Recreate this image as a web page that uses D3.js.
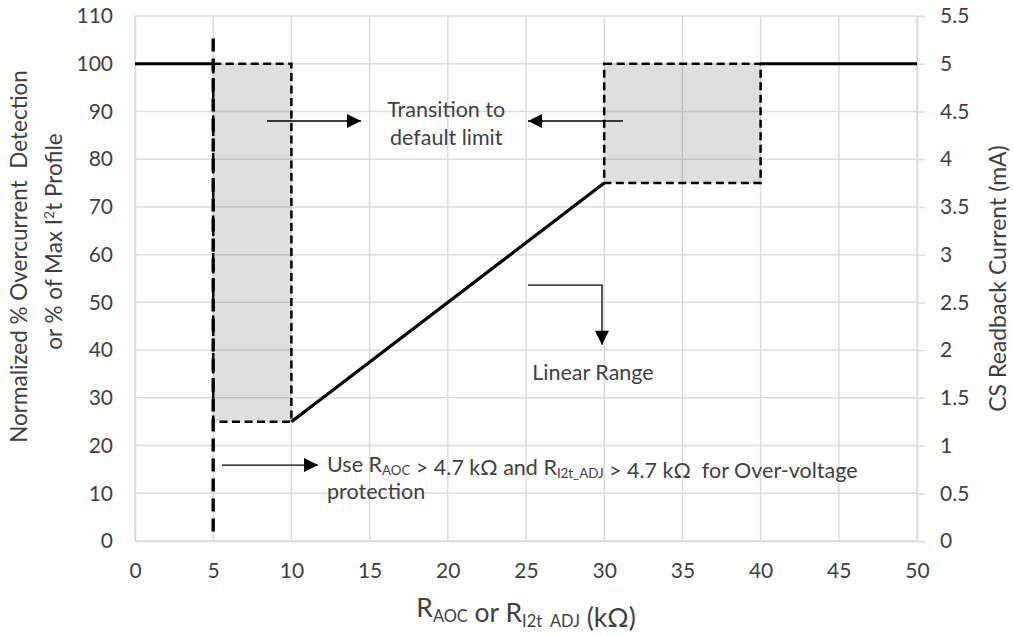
<!DOCTYPE html>
<html><head><meta charset="utf-8">
<script src="https://cdn.jsdelivr.net/npm/d3@7"></script>
<style>
body{margin:0;background:#fff}
text{font-family:Lato,"Open Sans",sans-serif;fill:#404040}
</style>
</head><body>
<svg id="c" width="1013" height="636"></svg>
<script>
// ---- data ----
const xTicks = [0,5,10,15,20,25,30,35,40,45,50];
const yLeftTicks = [0,10,20,30,40,50,60,70,80,90,100,110];
const yRightTicks = [0,0.5,1,1.5,2,2.5,3,3.5,4,4.5,5,5.5];
// solid limit curve pieces
const defaultLowX = [0,5],   defaultLowY = [100,100];
const linearX = [10,30],     linearY = [25,75];
const defaultHighX = [40,50], defaultHighY = [100,100];
// shaded transition boxes
const boxX0 = [5,30], boxX1 = [10,40], boxY0 = [25,75], boxY1 = [100,100];
// dashed over-voltage boundary
const ovX = [5,5], ovY = [2,106.5];
// annotations (data units)
const arrowRight1 = {x0:8.44, x1:14.45, y:88};
const arrowLeft1  = {x0:31.2, x1:25.13, y:88};
const transitionText = ["Transition to","default limit"], transitionX = 19.9, transitionY = [88.8,83.0];
const linRangeArrow = {x0:25.13, x1:29.86, y0:53.6, y1:41.1};
const linRangeText = "Linear Range", linRangeX = 25.4, linRangeY = 33.7;
const useArrow = {x0:5.56, x1:11.7, y:15.9};
const useX = 12.28, useY = [14.5, 9.0];

// ---- layout ----
const L = 135, R = 917, T = 16, B = 541;
const svg = d3.select("#c");
const x = d3.scaleLinear().domain([0,50]).range([L,R]);
const y = d3.scaleLinear().domain([0,110]).range([B,T]);
const y2 = d3.scaleLinear().domain([0,5.5]).range([B,T]);

const grid = "#dcdcdc";
// gridlines
svg.append("g").selectAll("line").data(yLeftTicks).join("line")
  .attr("x1",L).attr("x2",R).attr("y1",d=>y(d)).attr("y2",d=>y(d))
  .attr("stroke",grid).attr("stroke-width",1.5);
svg.append("g").selectAll("line").data(xTicks).join("line")
  .attr("x1",d=>x(d)).attr("x2",d=>x(d)).attr("y1",T).attr("y2",B)
  .attr("stroke",grid).attr("stroke-width",1.5);

// shaded boxes
const boxes = boxX0.map((d,i)=>({x0:d,x1:boxX1[i],y0:boxY0[i],y1:boxY1[i]}));
svg.append("g").selectAll("rect").data(boxes).join("rect")
  .attr("x",d=>x(d.x0)).attr("y",d=>y(d.y1))
  .attr("width",d=>x(d.x1)-x(d.x0)).attr("height",d=>y(d.y0)-y(d.y1))
  .attr("fill","#000").attr("fill-opacity",0.125);

// axes
const fs = 21;
const gl = svg.append("g").attr("transform",`translate(${L},0)`)
  .call(d3.axisLeft(y).tickValues(yLeftTicks).tickSize(0).tickPadding(22).tickFormat(d3.format("d")));
const gb = svg.append("g").attr("transform",`translate(0,${B})`)
  .call(d3.axisBottom(x).tickValues(xTicks).tickSize(0).tickPadding(22).tickFormat(d3.format("d")));
const gr = svg.append("g").attr("transform",`translate(${R},0)`)
  .call(d3.axisRight(y2).tickValues(yRightTicks).tickSize(8).tickPadding(15).tickFormat(d=>String(d)));
[gl,gb,gr].forEach(g=>{
  g.selectAll(".domain").attr("stroke",grid).attr("stroke-width",1.5);
  g.selectAll(".tick line").attr("stroke",grid).attr("stroke-width",1.5);
  g.selectAll("text").attr("font-size",fs).attr("font-family","Lato, sans-serif").attr("fill","#404040");
});

// solid curve
const line = d3.line().x(d=>x(d[0])).y(d=>y(d[1]));
[[defaultLowX,defaultLowY],[linearX,linearY],[defaultHighX,defaultHighY]].forEach(([xs,ys])=>{
  svg.append("path").datum(xs.map((v,i)=>[v,ys[i]])).attr("d",line)
    .attr("fill","none").attr("stroke","#000").attr("stroke-width",3.2);
});

// dashed box borders
svg.append("g").selectAll("rect").data(boxes).join("rect")
  .attr("x",d=>x(d.x0)).attr("y",d=>y(d.y1))
  .attr("width",d=>x(d.x1)-x(d.x0)).attr("height",d=>y(d.y0)-y(d.y1))
  .attr("fill","none").attr("stroke","#000").attr("stroke-width",2.5).attr("stroke-dasharray","8,4.5");

// vertical dashed line
svg.append("path").datum(ovX.map((v,i)=>[v,ovY[i]])).attr("d",line)
  .attr("fill","none").attr("stroke","#000").attr("stroke-width",3.4).attr("stroke-dasharray","13,7");

// arrow markers
const defs = svg.append("defs");
defs.append("marker").attr("id","ah").attr("viewBox","0 0 10 10").attr("refX",10).attr("refY",5)
  .attr("markerUnits","userSpaceOnUse").attr("markerWidth",15).attr("markerHeight",14).attr("orient","auto")
  .append("path").attr("d","M0,0 L10,5 L0,10 Z").attr("fill","#000");

function arrowPath(pts){
  svg.append("path").datum(pts).attr("d",line).attr("fill","none")
    .attr("stroke","#000").attr("stroke-width",1.3).attr("marker-end","url(#ah)");
}
arrowPath([[arrowRight1.x0,arrowRight1.y],[arrowRight1.x1,arrowRight1.y]]);
arrowPath([[arrowLeft1.x0,arrowLeft1.y],[arrowLeft1.x1,arrowLeft1.y]]);
arrowPath([[linRangeArrow.x0,linRangeArrow.y0],[linRangeArrow.x1,linRangeArrow.y0],[linRangeArrow.x1,linRangeArrow.y1]]);
arrowPath([[useArrow.x0,useArrow.y],[useArrow.x1,useArrow.y]]);

// annotation text
const afs = 21.5;
transitionText.forEach((t,i)=>{
  svg.append("text").attr("x",x(transitionX)).attr("y",y(transitionY[i]))
    .attr("text-anchor","middle").attr("font-size",afs).text(t);
});
svg.append("text").attr("x",x(linRangeX)).attr("y",y(linRangeY)).attr("font-size",afs).text(linRangeText);

function sub(parent, main, s, shift){
  parent.append("tspan").text(main);
  parent.append("tspan").attr("font-size","0.62em").attr("dy",shift).text(s);
  parent.append("tspan").attr("dy",-shift).text("");
}
const t1 = svg.append("text").attr("x",x(useX)).attr("y",y(useY[0])).attr("font-size",afs).style("white-space","pre");
t1.append("tspan").text("Use ");
sub(t1,"R","AOC",3);
t1.append("tspan").text(" > 4.7 k\u03A9 and ");
sub(t1,"R","I2t_ADJ",3);
t1.append("tspan").text(" > 4.7 k\u03A9  for Over-voltage");
svg.append("text").attr("x",x(useX)).attr("y",y(useY[1]) + 1).attr("font-size",afs).text("protection");

// axis titles
const xt = svg.append("text").attr("x",(L+R)/2).attr("y",617).attr("text-anchor","middle")
  .attr("font-size",26.5).style("white-space","pre");
sub(xt,"R","AOC",5);
xt.append("tspan").text(" or ");
sub(xt,"R","I2t  ADJ",5);
xt.append("tspan").text(" (k\u03A9)");

const ylt = svg.append("g").attr("transform",`translate(27,${(T+B)/2-22}) rotate(-90)`);
ylt.append("text").attr("text-anchor","middle").attr("font-size",22.5).style("white-space","pre")
  .text("Normalized % Overcurrent  Detection");
const l2 = ylt.append("text").attr("text-anchor","middle").attr("y",35).attr("x",15).attr("font-size",22.5);
l2.append("tspan").text("or % of Max I");
l2.append("tspan").attr("font-size","0.62em").attr("dy",-8).text("2");
l2.append("tspan").attr("dy",8).text("t Profile");

svg.append("g").attr("transform",`translate(1006,${(T+B)/2}) rotate(-90)`)
  .append("text").attr("text-anchor","middle").attr("font-size",23).text("CS Readback Current (mA)");
</script>
</body></html>
